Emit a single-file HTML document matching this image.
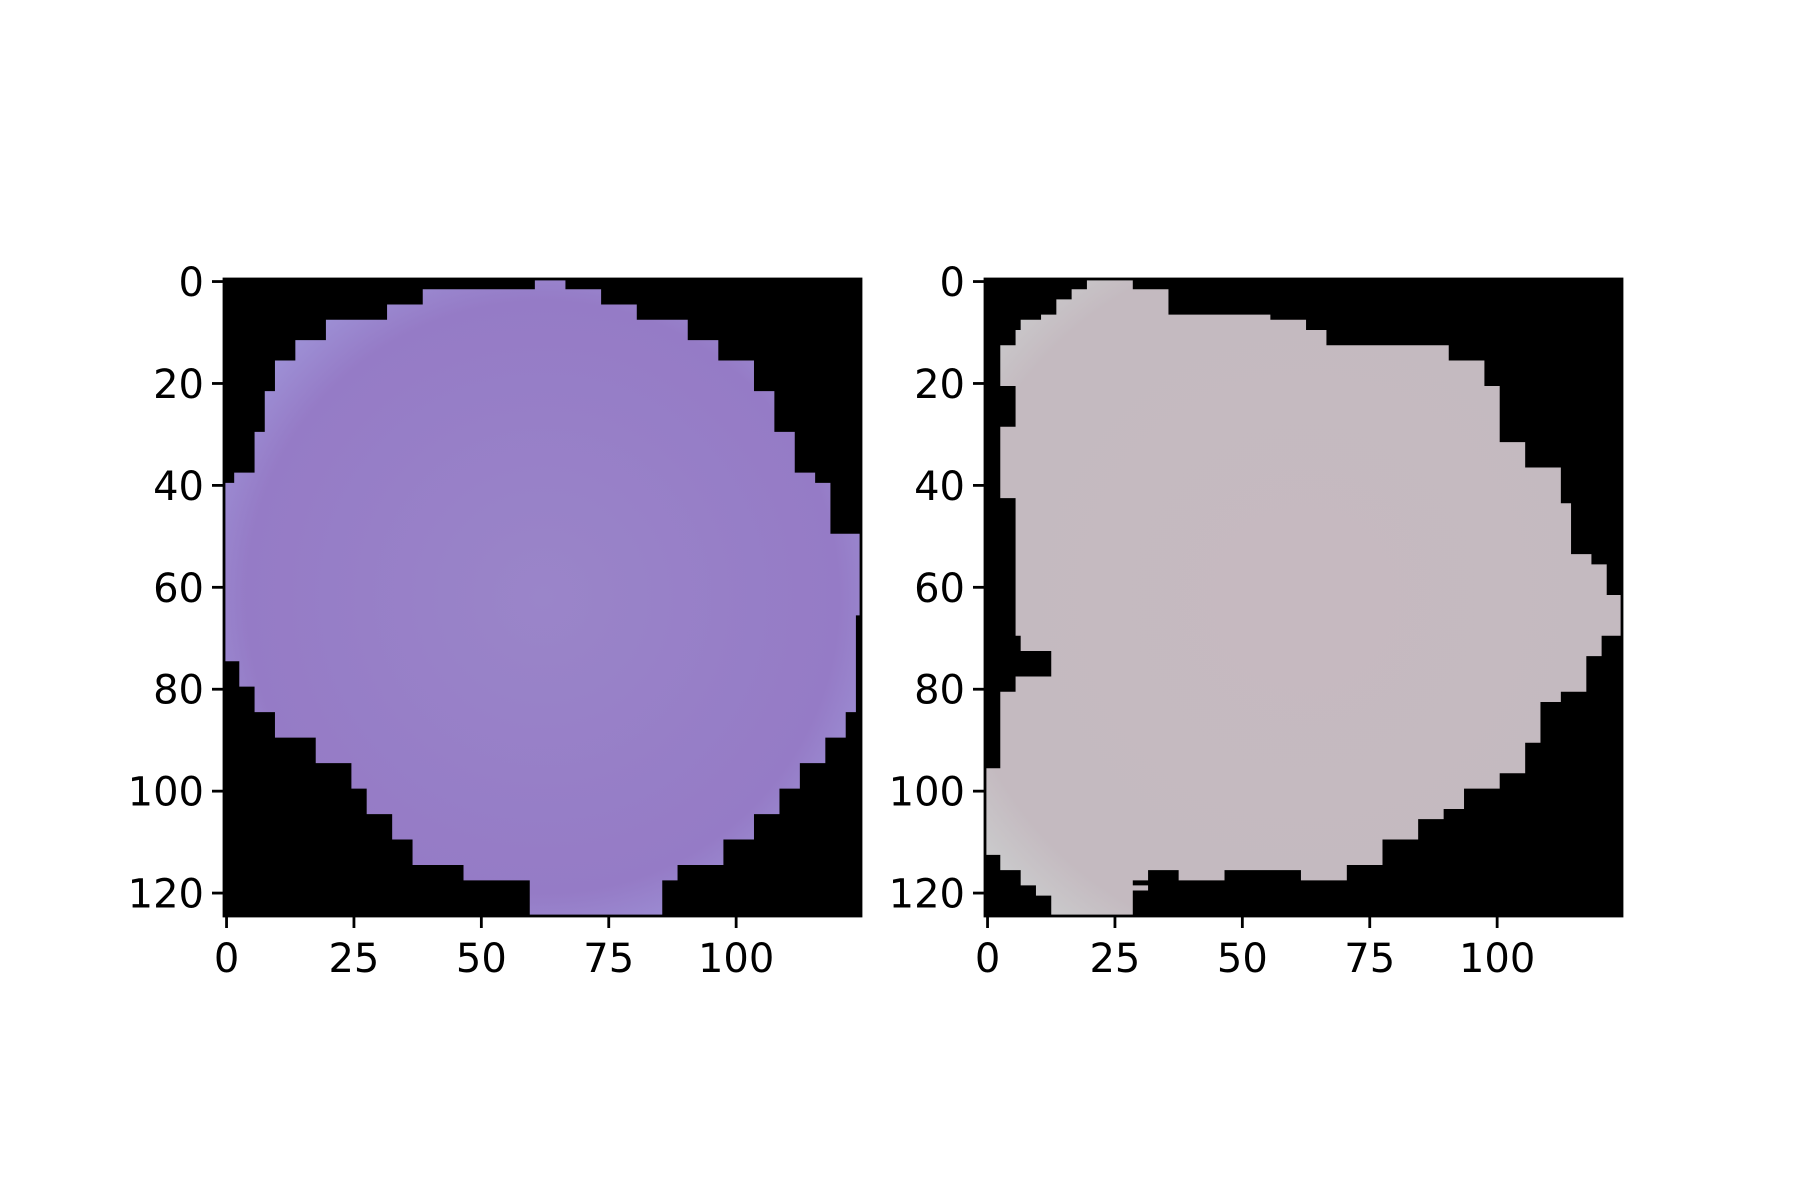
<!DOCTYPE html>
<html><head><meta charset="utf-8"><style>
html,body{margin:0;padding:0;background:#fff;}
svg{display:block;}
text{font-family:"DejaVu Sans","Liberation Sans",sans-serif;font-size:40px;fill:#000;}
</style></head><body>
<svg id="fig" width="1800" height="1200" viewBox="0 0 1800 1200" xmlns="http://www.w3.org/2000/svg">
<defs>
<radialGradient id="gL" cx="50%" cy="50%" r="62%">
<stop offset="0" stop-color="#9a85c9"/><stop offset="0.75" stop-color="#957bc6"/><stop offset="1" stop-color="#a39ee0"/>
</radialGradient>
<radialGradient id="gR" cx="50%" cy="50%" r="65%">
<stop offset="0" stop-color="#c6b9c0"/><stop offset="0.85" stop-color="#c4bac0"/><stop offset="1" stop-color="#cbcccd"/>
</radialGradient>
</defs>
</svg>
<script>
// row spans of the cell masks: [rowStart, [[xmin,xmax],...]] in image pixel units
const leftRows = [[0,[[61,66]]],[2,[[39,73]]],[5,[[32,80]]],[8,[[20,90]]],[12,[[14,96]]],[16,[[10,103]]],[22,[[8,107]]],[30,[[6,111]]],[38,[[2,115]]],[40,[[0,118]]],[50,[[0,124]]],[66,[[0,123]]],[75,[[3,123]]],[80,[[6,123]]],[85,[[10,121]]],[90,[[18,117]]],[95,[[25,112]]],[100,[[28,108]]],[105,[[33,103]]],[110,[[37,97]]],[115,[[47,88]]],[118,[[60,85]]]];
const rightRows = [[0,[[20,28]]],[2,[[17,35]]],[4,[[14,35]]],[7,[[11,55]]],[8,[[7,62]]],[10,[[6,66]]],[13,[[3,90]]],[16,[[3,97]]],[21,[[6,100]]],[29,[[3,100]]],[32,[[3,105]]],[37,[[3,112]]],[43,[[6,112]]],[44,[[6,114]]],[54,[[6,118]]],[56,[[6,121]]],[62,[[6,124]]],[70,[[7,120]]],[73,[[13,120]]],[74,[[13,117]]],[78,[[6,117]]],[81,[[3,112]]],[83,[[3,108]]],[91,[[3,105]]],[96,[[0,105]]],[97,[[0,100]]],[100,[[0,93]]],[104,[[0,89]]],[106,[[0,84]]],[110,[[0,77]]],[113,[[3,77]]],[115,[[3,70]]],[116,[[7,31],[38,46],[62,70]]],[118,[[7,28]]],[119,[[10,31]]],[120,[[10,28]]],[121,[[13,28]]]];
const xTicks = [0,25,50,75,100];
const yTicks = [0,20,40,60,80,100,120];
const imgSize = 125;

const NS = "http://www.w3.org/2000/svg";
const svg = document.getElementById('fig');
function mk(tag, attrs){const e=document.createElementNS(NS,tag);for(const k in attrs)e.setAttribute(k,attrs[k]);return e;}

function panel(x0, y0, size, rows, fill, name){
  const g = mk('g',{});
  
  
  const s = size/imgSize;
  const X = v => x0 + (v+0.5)*s;
  const Y = v => y0 + (v+0.5)*s;
  const bg = mk('rect',{x:x0,y:y0,width:size,height:size,fill:'#000'});
  
  
  g.appendChild(bg);
  let d = '';
  for(let i=0;i<rows.length;i++){
    const ys = rows[i][0], ye = i+1<rows.length ? rows[i+1][0] : 124;
    for(const sp of rows[i][1]){
      const xa=X(sp[0]-0.5), xb=X(sp[1]+0.5), ya=Y(ys-0.5), yb=Y(ye-0.5+ (i+1<rows.length?0:1));
      d += `M${xa},${ya}H${xb}V${yb}H${xa}Z`;
    }
  }
  const cell = mk('path',{d:d,fill:fill,stroke:'none'});
  
  
  g.appendChild(cell);
  const frame = mk('rect',{x:x0,y:y0,width:size,height:size,fill:'none',stroke:'#000','stroke-width':2.8});
  
  
  g.appendChild(frame);
  for(const t of xTicks){
    const l = mk('line',{x1:X(t),x2:X(t),y1:y0+size,y2:y0+size+12,stroke:'#000','stroke-width':2.8});
    
    
    g.appendChild(l);
    const tx = mk('text',{x:X(t),y:y0+size+56,'text-anchor':'middle'});
    tx.textContent = t;
    
    
    g.appendChild(tx);
  }
  for(const t of yTicks){
    const l = mk('line',{x1:x0-12,x2:x0,y1:Y(t),y2:Y(t),stroke:'#000','stroke-width':2.8});
    
    
    g.appendChild(l);
    const tx = mk('text',{x:x0-20,y:Y(t)+14.5,'text-anchor':'end'});
    tx.textContent = t;
    
    
    g.appendChild(tx);
  }
  svg.appendChild(g);
}
panel(224, 279, 637, leftRows, 'url(#gL)', 'left-cell-panel');
panel(985, 279, 637, rightRows, 'url(#gR)', 'right-cell-panel');
</script>
</body></html>
